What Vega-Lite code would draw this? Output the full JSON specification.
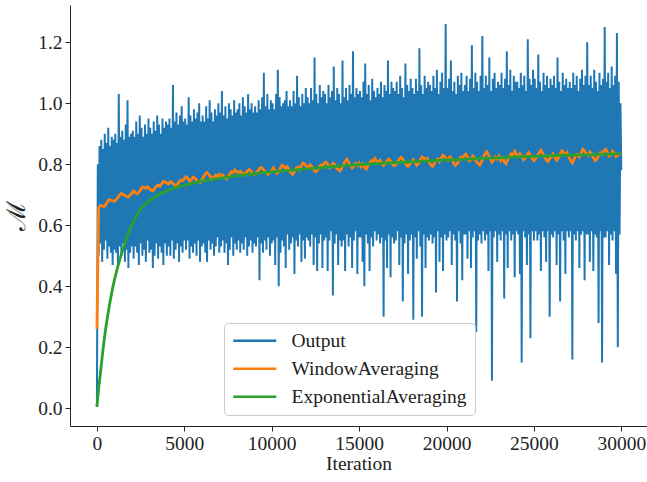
{
"$schema":"https://vega.github.io/schema/vega-lite/v6.json",
"width":577,"height":421,
"autosize":{"type":"none"},
"padding":{"left":70,"top":5,"right":0,"bottom":56},
"background":"white",
"config":{
"view":{"stroke":null},
"axis":{"labelFont":"Liberation Serif","labelFontSize":19.5,"labelColor":"#222","titleFont":"Liberation Serif","titleFontSize":19.5,"titleFontWeight":"normal","titleColor":"#222","domainColor":"#222","domainWidth":1,"tickColor":"#222","tickSize":5,"tickWidth":1,"grid":false,"labelPadding":3},
"legend":{"labelFont":"Liberation Serif","labelFontSize":19.5,"labelColor":"#222"}
},
"encoding":{
"x":{"field":"x","type":"quantitative","scale":{"domain":[-1540,31470],"nice":false,"zero":false},"axis":{"values":[0,5000,10000,15000,20000,25000,30000],"format":"d","title":"Iteration","titlePadding":2}},
"y":{"field":"v","type":"quantitative","scale":{"domain":[-0.058,1.322],"nice":false,"zero":false},"axis":{"values":[0,0.2,0.4,0.6,0.8,1.0,1.2],"format":".1f","title":"ℳ","titleFont":"DejaVu Serif","titleFontSize":26,"titlePadding":8}},
"color":{"field":"k","type":"nominal","scale":{"domain":["o","w","e"],"range":["#1f77b4","#ff7f0e","#2ca02c"]},"legend":{"orient":"none","legendX":154,"legendY":318,"title":null,"symbolType":"M-3,0H3","symbolSize":206,"symbolStrokeWidth":2.6,"symbolOffset":13,"labelOffset":27,"labelLimit":400,"padding":8,"rowPadding":7,"fillColor":"rgba(255,255,255,0.8)","strokeColor":"#cccccc","cornerRadius":4,"labelExpr":"datum.label=='o'?'Output':datum.label=='w'?'WindowAveraging':'ExponentialAveraging\u00a0\u00a0\u00a0\u00a0'"}}
},
"layer":[
{"data":{"values":[
{"x":0,"o":0.005},
{"x":50,"o":0.80},{"x":100,"o":0.50},{"x":150,"o":0.86},{"x":200,"o":0.54},{"x":250,"o":0.88},{"x":300,"o":0.48},{"x":350,"o":0.85},{"x":400,"o":0.52},{"x":450,"o":0.90},{"x":500,"o":0.55},{"x":550,"o":0.87},{"x":600,"o":0.49},{"x":650,"o":0.92},{"x":700,"o":0.53},{"x":750,"o":0.86},{"x":800,"o":0.51},{"x":850,"o":0.89},{"x":900,"o":0.47},{"x":950,"o":0.88},{"x":1000,"o":0.52},
{"x":1050,"o":0.90},{"x":1100,"o":0.51},{"x":1150,"o":0.87},{"x":1200,"o":0.47},{"x":1250,"o":1.03},{"x":1300,"o":0.53},{"x":1350,"o":0.89},{"x":1400,"o":0.50},{"x":1450,"o":0.91},{"x":1500,"o":0.54},{"x":1550,"o":0.88},{"x":1600,"o":0.48},{"x":1650,"o":0.93},{"x":1700,"o":0.52},{"x":1750,"o":1.01},{"x":1800,"o":0.46},{"x":1850,"o":0.89},{"x":1900,"o":0.51},{"x":1950,"o":0.90},{"x":2000,"o":0.53},
{"x":2050,"o":0.91},{"x":2100,"o":0.49},{"x":2150,"o":0.89},{"x":2200,"o":0.53},{"x":2250,"o":0.94},{"x":2300,"o":0.51},{"x":2350,"o":0.90},{"x":2400,"o":0.47},{"x":2450,"o":0.96},{"x":2500,"o":0.54},{"x":2550,"o":0.92},{"x":2600,"o":0.50},{"x":2650,"o":0.89},{"x":2700,"o":0.52},{"x":2750,"o":0.93},{"x":2800,"o":0.48},{"x":2850,"o":0.90},{"x":2900,"o":0.55},{"x":2950,"o":0.95},{"x":3000,"o":0.51},
{"x":3050,"o":0.92},{"x":3100,"o":0.52},{"x":3150,"o":0.90},{"x":3200,"o":0.46},{"x":3250,"o":0.94},{"x":3300,"o":0.50},{"x":3350,"o":0.91},{"x":3400,"o":0.54},{"x":3450,"o":0.96},{"x":3500,"o":0.49},{"x":3550,"o":0.93},{"x":3600,"o":0.53},{"x":3650,"o":0.90},{"x":3700,"o":0.51},{"x":3750,"o":0.95},{"x":3800,"o":0.47},{"x":3850,"o":0.92},{"x":3900,"o":0.54},{"x":3950,"o":0.94},{"x":4000,"o":0.50},
{"x":4050,"o":0.93},{"x":4100,"o":0.53},{"x":4150,"o":0.95},{"x":4200,"o":0.50},{"x":4250,"o":0.92},{"x":4300,"o":0.55},{"x":4350,"o":1.06},{"x":4400,"o":0.49},{"x":4450,"o":0.94},{"x":4500,"o":0.52},{"x":4550,"o":0.97},{"x":4600,"o":0.54},{"x":4650,"o":0.93},{"x":4700,"o":0.48},{"x":4750,"o":0.96},{"x":4800,"o":0.53},{"x":4850,"o":0.99},{"x":4900,"o":0.51},{"x":4950,"o":0.94},{"x":5000,"o":0.55},
{"x":5050,"o":0.95},{"x":5100,"o":0.52},{"x":5150,"o":0.93},{"x":5200,"o":0.55},{"x":5250,"o":1.02},{"x":5300,"o":0.49},{"x":5350,"o":0.96},{"x":5400,"o":0.53},{"x":5450,"o":0.94},{"x":5500,"o":0.51},{"x":5550,"o":0.98},{"x":5600,"o":0.54},{"x":5650,"o":0.95},{"x":5700,"o":0.50},{"x":5750,"o":0.97},{"x":5800,"o":0.55},{"x":5850,"o":1.00},{"x":5900,"o":0.48},{"x":5950,"o":0.94},{"x":6000,"o":0.53},
{"x":6050,"o":0.96},{"x":6100,"o":0.54},{"x":6150,"o":0.94},{"x":6200,"o":0.51},{"x":6250,"o":0.99},{"x":6300,"o":0.48},{"x":6350,"o":0.95},{"x":6400,"o":0.55},{"x":6450,"o":1.01},{"x":6500,"o":0.52},{"x":6550,"o":0.97},{"x":6600,"o":0.54},{"x":6650,"o":0.94},{"x":6700,"o":0.50},{"x":6750,"o":0.98},{"x":6800,"o":0.53},{"x":6850,"o":0.96},{"x":6900,"o":0.56},{"x":6950,"o":1.00},{"x":7000,"o":0.51},
{"x":7050,"o":0.97},{"x":7100,"o":0.53},{"x":7150,"o":1.04},{"x":7200,"o":0.55},{"x":7250,"o":0.96},{"x":7300,"o":0.51},{"x":7350,"o":0.99},{"x":7400,"o":0.54},{"x":7450,"o":0.95},{"x":7500,"o":0.47},{"x":7550,"o":1.00},{"x":7600,"o":0.52},{"x":7650,"o":0.98},{"x":7700,"o":0.56},{"x":7750,"o":0.96},{"x":7800,"o":0.50},{"x":7850,"o":1.01},{"x":7900,"o":0.54},{"x":7950,"o":0.97},{"x":8000,"o":0.52},
{"x":8050,"o":0.98},{"x":8100,"o":0.55},{"x":8150,"o":1.00},{"x":8200,"o":0.51},{"x":8250,"o":0.96},{"x":8300,"o":0.54},{"x":8350,"o":1.02},{"x":8400,"o":0.52},{"x":8450,"o":0.99},{"x":8500,"o":0.56},{"x":8550,"o":0.97},{"x":8600,"o":0.50},{"x":8650,"o":1.03},{"x":8700,"o":0.53},{"x":8750,"o":0.98},{"x":8800,"o":0.55},{"x":8850,"o":1.00},{"x":8900,"o":0.51},{"x":8950,"o":0.97},{"x":9000,"o":0.54},
{"x":9050,"o":0.99},{"x":9100,"o":0.53},{"x":9150,"o":0.97},{"x":9200,"o":0.56},{"x":9250,"o":1.01},{"x":9300,"o":0.42},{"x":9350,"o":0.98},{"x":9400,"o":0.54},{"x":9450,"o":1.02},{"x":9500,"o":0.51},{"x":9550,"o":1.10},{"x":9600,"o":0.55},{"x":9650,"o":0.99},{"x":9700,"o":0.52},{"x":9750,"o":1.03},{"x":9800,"o":0.56},{"x":9850,"o":0.98},{"x":9900,"o":0.50},{"x":9950,"o":1.01},{"x":10000,"o":0.54},
{"x":10050,"o":1.00},{"x":10100,"o":0.55},{"x":10150,"o":0.98},{"x":10200,"o":0.47},{"x":10250,"o":1.03},{"x":10300,"o":0.56},{"x":10350,"o":1.11},{"x":10400,"o":0.40},{"x":10450,"o":1.02},{"x":10500,"o":0.51},{"x":10550,"o":0.99},{"x":10600,"o":0.55},{"x":10650,"o":1.00},{"x":10700,"o":0.53},{"x":10750,"o":1.01},{"x":10800,"o":0.46},{"x":10850,"o":1.04},{"x":10900,"o":0.57},{"x":10950,"o":0.99},{"x":11000,"o":0.52},
{"x":11050,"o":1.01},{"x":11100,"o":0.54},{"x":11150,"o":0.99},{"x":11200,"o":0.56},{"x":11250,"o":1.04},{"x":11300,"o":0.44},{"x":11350,"o":1.00},{"x":11400,"o":0.55},{"x":11450,"o":1.09},{"x":11500,"o":0.53},{"x":11550,"o":1.02},{"x":11600,"o":0.57},{"x":11650,"o":0.99},{"x":11700,"o":0.48},{"x":11750,"o":1.03},{"x":11800,"o":0.55},{"x":11850,"o":1.00},{"x":11900,"o":0.49},{"x":11950,"o":1.05},{"x":12000,"o":0.56},
{"x":12050,"o":1.02},{"x":12100,"o":0.55},{"x":12150,"o":1.00},{"x":12200,"o":0.53},{"x":12250,"o":1.05},{"x":12300,"o":0.57},{"x":12350,"o":1.01},{"x":12400,"o":0.47},{"x":12450,"o":1.15},{"x":12500,"o":0.56},{"x":12550,"o":1.03},{"x":12600,"o":0.45},{"x":12650,"o":1.00},{"x":12700,"o":0.54},{"x":12750,"o":1.06},{"x":12800,"o":0.57},{"x":12850,"o":1.02},{"x":12900,"o":0.46},{"x":12950,"o":1.04},{"x":13000,"o":0.55},
{"x":13050,"o":1.03},{"x":13100,"o":0.56},{"x":13150,"o":1.00},{"x":13200,"o":0.45},{"x":13250,"o":1.06},{"x":13300,"o":0.55},{"x":13350,"o":1.02},{"x":13400,"o":0.58},{"x":13450,"o":1.04},{"x":13500,"o":0.37},{"x":13550,"o":1.12},{"x":13600,"o":0.54},{"x":13650,"o":1.01},{"x":13700,"o":0.57},{"x":13750,"o":1.05},{"x":13800,"o":0.47},{"x":13850,"o":1.03},{"x":13900,"o":0.55},{"x":13950,"o":1.00},{"x":14000,"o":0.53},
{"x":14050,"o":1.14},{"x":14100,"o":0.55},{"x":14150,"o":1.02},{"x":14200,"o":0.45},{"x":14250,"o":1.05},{"x":14300,"o":0.57},{"x":14350,"o":1.01},{"x":14400,"o":0.53},{"x":14450,"o":1.06},{"x":14500,"o":0.56},{"x":14550,"o":1.03},{"x":14600,"o":0.46},{"x":14650,"o":1.17},{"x":14700,"o":0.55},{"x":14750,"o":1.02},{"x":14800,"o":0.58},{"x":14850,"o":1.05},{"x":14900,"o":0.44},{"x":14950,"o":1.03},{"x":15000,"o":0.56},
{"x":15050,"o":1.04},{"x":15100,"o":0.56},{"x":15150,"o":1.02},{"x":15200,"o":0.48},{"x":15250,"o":1.07},{"x":15300,"o":0.40},{"x":15350,"o":1.13},{"x":15400,"o":0.57},{"x":15450,"o":1.03},{"x":15500,"o":0.54},{"x":15550,"o":1.06},{"x":15600,"o":0.45},{"x":15650,"o":1.01},{"x":15700,"o":0.56},{"x":15750,"o":1.08},{"x":15800,"o":0.53},{"x":15850,"o":1.04},{"x":15900,"o":0.58},{"x":15950,"o":1.02},{"x":16000,"o":0.55},
{"x":16050,"o":1.05},{"x":16100,"o":0.57},{"x":16150,"o":1.03},{"x":16200,"o":0.54},{"x":16250,"o":1.07},{"x":16300,"o":0.56},{"x":16350,"o":1.02},{"x":16400,"o":0.30},{"x":16450,"o":1.06},{"x":16500,"o":0.55},{"x":16550,"o":1.04},{"x":16600,"o":0.46},{"x":16650,"o":1.14},{"x":16700,"o":0.57},{"x":16750,"o":1.03},{"x":16800,"o":0.43},{"x":16850,"o":1.07},{"x":16900,"o":0.56},{"x":16950,"o":1.05},{"x":17000,"o":0.54},
{"x":17050,"o":1.04},{"x":17100,"o":0.55},{"x":17150,"o":1.07},{"x":17200,"o":0.58},{"x":17250,"o":1.03},{"x":17300,"o":0.47},{"x":17350,"o":1.09},{"x":17400,"o":0.56},{"x":17450,"o":1.05},{"x":17500,"o":0.35},{"x":17550,"o":1.02},{"x":17600,"o":0.54},{"x":17650,"o":1.13},{"x":17700,"o":0.57},{"x":17750,"o":1.06},{"x":17800,"o":0.44},{"x":17850,"o":1.04},{"x":17900,"o":0.55},{"x":17950,"o":1.08},{"x":18000,"o":0.57},
{"x":18050,"o":1.05},{"x":18100,"o":0.29},{"x":18150,"o":1.03},{"x":18200,"o":0.56},{"x":18250,"o":1.08},{"x":18300,"o":0.49},{"x":18350,"o":1.04},{"x":18400,"o":0.58},{"x":18450,"o":1.18},{"x":18500,"o":0.53},{"x":18550,"o":1.06},{"x":18600,"o":0.30},{"x":18650,"o":1.03},{"x":18700,"o":0.57},{"x":18750,"o":1.09},{"x":18800,"o":0.46},{"x":18850,"o":1.05},{"x":18900,"o":0.56},{"x":18950,"o":1.07},{"x":19000,"o":0.55},
{"x":19050,"o":1.06},{"x":19100,"o":0.57},{"x":19150,"o":1.04},{"x":19200,"o":0.54},{"x":19250,"o":1.09},{"x":19300,"o":0.56},{"x":19350,"o":1.05},{"x":19400,"o":0.38},{"x":19450,"o":1.11},{"x":19500,"o":0.58},{"x":19550,"o":1.03},{"x":19600,"o":0.48},{"x":19650,"o":1.07},{"x":19700,"o":0.56},{"x":19750,"o":1.10},{"x":19800,"o":0.45},{"x":19850,"o":1.05},{"x":19900,"o":0.57},{"x":19950,"o":1.26},{"x":20000,"o":0.55},
{"x":20050,"o":1.05},{"x":20100,"o":0.56},{"x":20150,"o":1.08},{"x":20200,"o":0.58},{"x":20250,"o":1.14},{"x":20300,"o":0.47},{"x":20350,"o":1.04},{"x":20400,"o":0.57},{"x":20450,"o":1.07},{"x":20500,"o":0.55},{"x":20550,"o":1.03},{"x":20600,"o":0.35},{"x":20650,"o":1.09},{"x":20700,"o":0.58},{"x":20750,"o":1.06},{"x":20800,"o":0.54},{"x":20850,"o":1.10},{"x":20900,"o":0.42},{"x":20950,"o":1.04},{"x":21000,"o":0.57},
{"x":21050,"o":1.06},{"x":21100,"o":0.57},{"x":21150,"o":1.09},{"x":21200,"o":0.49},{"x":21250,"o":1.04},{"x":21300,"o":0.58},{"x":21350,"o":1.08},{"x":21400,"o":0.46},{"x":21450,"o":1.19},{"x":21500,"o":0.56},{"x":21550,"o":1.05},{"x":21600,"o":0.58},{"x":21650,"o":1.10},{"x":21700,"o":0.25},{"x":21750,"o":1.07},{"x":21800,"o":0.55},{"x":21850,"o":1.04},{"x":21900,"o":0.57},{"x":21950,"o":1.09},{"x":22000,"o":0.54},
{"x":22050,"o":1.22},{"x":22100,"o":0.58},{"x":22150,"o":1.05},{"x":22200,"o":0.55},{"x":22250,"o":1.09},{"x":22300,"o":0.57},{"x":22350,"o":1.06},{"x":22400,"o":0.45},{"x":22450,"o":1.15},{"x":22500,"o":0.58},{"x":22550,"o":1.04},{"x":22600,"o":0.09},{"x":22650,"o":1.08},{"x":22700,"o":0.56},{"x":22750,"o":1.10},{"x":22800,"o":0.58},{"x":22850,"o":1.05},{"x":22900,"o":0.48},{"x":22950,"o":1.07},{"x":23000,"o":0.57},
{"x":23050,"o":1.06},{"x":23100,"o":0.55},{"x":23150,"o":1.10},{"x":23200,"o":0.58},{"x":23250,"o":1.05},{"x":23300,"o":0.36},{"x":23350,"o":1.08},{"x":23400,"o":0.57},{"x":23450,"o":1.17},{"x":23500,"o":0.46},{"x":23550,"o":1.06},{"x":23600,"o":0.58},{"x":23650,"o":1.11},{"x":23700,"o":0.55},{"x":23750,"o":1.04},{"x":23800,"o":0.57},{"x":23850,"o":1.09},{"x":23900,"o":0.43},{"x":23950,"o":1.07},{"x":24000,"o":0.58},
{"x":24050,"o":1.07},{"x":24100,"o":0.57},{"x":24150,"o":1.05},{"x":24200,"o":0.44},{"x":24250,"o":1.10},{"x":24300,"o":0.15},{"x":24350,"o":1.06},{"x":24400,"o":0.58},{"x":24450,"o":1.09},{"x":24500,"o":0.56},{"x":24550,"o":1.04},{"x":24600,"o":0.47},{"x":24650,"o":1.21},{"x":24700,"o":0.57},{"x":24750,"o":1.08},{"x":24800,"o":0.23},{"x":24850,"o":1.06},{"x":24900,"o":0.58},{"x":24950,"o":1.11},{"x":25000,"o":0.55},
{"x":25050,"o":1.08},{"x":25100,"o":0.58},{"x":25150,"o":1.05},{"x":25200,"o":0.55},{"x":25250,"o":1.16},{"x":25300,"o":0.57},{"x":25350,"o":1.07},{"x":25400,"o":0.45},{"x":25450,"o":1.04},{"x":25500,"o":0.58},{"x":25550,"o":1.10},{"x":25600,"o":0.56},{"x":25650,"o":1.06},{"x":25700,"o":0.48},{"x":25750,"o":1.09},{"x":25800,"o":0.58},{"x":25850,"o":1.05},{"x":25900,"o":0.30},{"x":25950,"o":1.08},{"x":26000,"o":0.57},
{"x":26050,"o":1.06},{"x":26100,"o":0.56},{"x":26150,"o":1.09},{"x":26200,"o":0.58},{"x":26250,"o":1.05},{"x":26300,"o":0.47},{"x":26350,"o":1.15},{"x":26400,"o":0.57},{"x":26450,"o":1.07},{"x":26500,"o":0.35},{"x":26550,"o":1.04},{"x":26600,"o":0.58},{"x":26650,"o":1.10},{"x":26700,"o":0.55},{"x":26750,"o":1.06},{"x":26800,"o":0.44},{"x":26850,"o":1.08},{"x":26900,"o":0.58},{"x":26950,"o":1.05},{"x":27000,"o":0.56},
{"x":27050,"o":1.07},{"x":27100,"o":0.58},{"x":27150,"o":1.05},{"x":27200,"o":0.16},{"x":27250,"o":1.10},{"x":27300,"o":0.57},{"x":27350,"o":1.06},{"x":27400,"o":0.55},{"x":27450,"o":1.09},{"x":27500,"o":0.58},{"x":27550,"o":1.04},{"x":27600,"o":0.46},{"x":27650,"o":1.08},{"x":27700,"o":0.57},{"x":27750,"o":1.11},{"x":27800,"o":0.58},{"x":27850,"o":1.06},{"x":27900,"o":0.42},{"x":27950,"o":1.09},{"x":28000,"o":0.57},
{"x":28050,"o":1.20},{"x":28100,"o":0.57},{"x":28150,"o":1.06},{"x":28200,"o":0.48},{"x":28250,"o":1.09},{"x":28300,"o":0.58},{"x":28350,"o":1.05},{"x":28400,"o":0.45},{"x":28450,"o":1.11},{"x":28500,"o":0.57},{"x":28550,"o":1.07},{"x":28600,"o":0.56},{"x":28650,"o":1.04},{"x":28700,"o":0.28},{"x":28750,"o":1.10},{"x":28800,"o":0.58},{"x":28850,"o":1.06},{"x":28900,"o":0.15},{"x":28950,"o":1.08},{"x":29000,"o":0.56},
{"x":29050,"o":1.25},{"x":29100,"o":0.56},{"x":29150,"o":1.07},{"x":29200,"o":0.58},{"x":29250,"o":1.10},{"x":29300,"o":0.47},{"x":29350,"o":1.05},{"x":29400,"o":0.57},{"x":29450,"o":1.12},{"x":29500,"o":0.55},{"x":29550,"o":1.06},{"x":29600,"o":0.58},{"x":29650,"o":1.09},{"x":29700,"o":0.44},{"x":29750,"o":1.23},{"x":29800,"o":0.20},{"x":29850,"o":1.07},{"x":29900,"o":0.57},{"x":29950,"o":1.00},{"x":30000,"o":0.78}
]},"transform":[{"fold":["o"],"as":["k","v"]}],"mark":{"type":"line","strokeWidth":2}},
{"data":{"values":[
{"x":0,"w":0.26},
{"x":100,"w":0.658},{"x":200,"w":0.665},{"x":300,"w":0.664},{"x":400,"w":0.661},{"x":500,"w":0.667},{"x":600,"w":0.677},{"x":700,"w":0.684},{"x":800,"w":0.682},{"x":900,"w":0.680},{"x":1000,"w":0.679},
{"x":1100,"w":0.684},{"x":1200,"w":0.691},{"x":1300,"w":0.699},{"x":1400,"w":0.705},{"x":1500,"w":0.701},{"x":1600,"w":0.698},{"x":1700,"w":0.694},{"x":1800,"w":0.692},{"x":1900,"w":0.699},{"x":2000,"w":0.705},
{"x":2100,"w":0.712},{"x":2200,"w":0.707},{"x":2300,"w":0.703},{"x":2400,"w":0.709},{"x":2500,"w":0.717},{"x":2600,"w":0.725},{"x":2700,"w":0.724},{"x":2800,"w":0.721},{"x":2900,"w":0.726},{"x":3000,"w":0.720},
{"x":3100,"w":0.715},{"x":3200,"w":0.713},{"x":3300,"w":0.720},{"x":3400,"w":0.728},{"x":3500,"w":0.732},{"x":3600,"w":0.728},{"x":3700,"w":0.736},{"x":3800,"w":0.744},{"x":3900,"w":0.742},{"x":4000,"w":0.738},
{"x":4100,"w":0.736},{"x":4200,"w":0.743},{"x":4300,"w":0.740},{"x":4400,"w":0.734},{"x":4500,"w":0.730},{"x":4600,"w":0.734},{"x":4700,"w":0.742},{"x":4800,"w":0.748},{"x":4900,"w":0.746},{"x":5000,"w":0.753},
{"x":5100,"w":0.759},{"x":5200,"w":0.754},{"x":5300,"w":0.745},{"x":5400,"w":0.749},{"x":5500,"w":0.758},{"x":5600,"w":0.755},{"x":5700,"w":0.747},{"x":5800,"w":0.743},{"x":5900,"w":0.741},{"x":6000,"w":0.749},
{"x":6100,"w":0.758},{"x":6200,"w":0.768},{"x":6300,"w":0.773},{"x":6400,"w":0.766},{"x":6500,"w":0.759},{"x":6600,"w":0.752},{"x":6700,"w":0.758},{"x":6800,"w":0.765},{"x":6900,"w":0.760},{"x":7000,"w":0.767},
{"x":7100,"w":0.758},{"x":7200,"w":0.764},{"x":7300,"w":0.757},{"x":7400,"w":0.752},{"x":7500,"w":0.761},{"x":7600,"w":0.767},{"x":7700,"w":0.776},{"x":7800,"w":0.773},{"x":7900,"w":0.781},{"x":8000,"w":0.775},
{"x":8100,"w":0.773},{"x":8200,"w":0.777},{"x":8300,"w":0.772},{"x":8400,"w":0.765},{"x":8500,"w":0.770},{"x":8600,"w":0.777},{"x":8700,"w":0.783},{"x":8800,"w":0.778},{"x":8900,"w":0.771},{"x":9000,"w":0.767},
{"x":9100,"w":0.771},{"x":9200,"w":0.777},{"x":9300,"w":0.786},{"x":9400,"w":0.790},{"x":9500,"w":0.784},{"x":9600,"w":0.778},{"x":9700,"w":0.771},{"x":9800,"w":0.767},{"x":9900,"w":0.773},{"x":10000,"w":0.779},
{"x":10100,"w":0.788},{"x":10200,"w":0.778},{"x":10300,"w":0.770},{"x":10400,"w":0.776},{"x":10500,"w":0.788},{"x":10600,"w":0.797},{"x":10700,"w":0.793},{"x":10800,"w":0.786},{"x":10900,"w":0.792},{"x":11000,"w":0.781},
{"x":11100,"w":0.772},{"x":11200,"w":0.767},{"x":11300,"w":0.776},{"x":11400,"w":0.788},{"x":11500,"w":0.791},{"x":11600,"w":0.783},{"x":11700,"w":0.795},{"x":11800,"w":0.804},{"x":11900,"w":0.800},{"x":12000,"w":0.793},
{"x":12100,"w":0.788},{"x":12200,"w":0.798},{"x":12300,"w":0.792},{"x":12400,"w":0.782},{"x":12500,"w":0.775},{"x":12600,"w":0.779},{"x":12700,"w":0.789},{"x":12800,"w":0.797},{"x":12900,"w":0.794},{"x":13000,"w":0.803},
{"x":13100,"w":0.807},{"x":13200,"w":0.801},{"x":13300,"w":0.788},{"x":13400,"w":0.791},{"x":13500,"w":0.803},{"x":13600,"w":0.799},{"x":13700,"w":0.788},{"x":13800,"w":0.783},{"x":13900,"w":0.778},{"x":14000,"w":0.787},
{"x":14100,"w":0.798},{"x":14200,"w":0.810},{"x":14300,"w":0.816},{"x":14400,"w":0.807},{"x":14500,"w":0.797},{"x":14600,"w":0.788},{"x":14700,"w":0.794},{"x":14800,"w":0.803},{"x":14900,"w":0.796},{"x":15000,"w":0.804},
{"x":15100,"w":0.792},{"x":15200,"w":0.801},{"x":15300,"w":0.790},{"x":15400,"w":0.784},{"x":15500,"w":0.795},{"x":15600,"w":0.803},{"x":15700,"w":0.812},{"x":15800,"w":0.809},{"x":15900,"w":0.819},{"x":16000,"w":0.810},
{"x":16100,"w":0.806},{"x":16200,"w":0.813},{"x":16300,"w":0.805},{"x":16400,"w":0.796},{"x":16500,"w":0.801},{"x":16600,"w":0.811},{"x":16700,"w":0.817},{"x":16800,"w":0.810},{"x":16900,"w":0.801},{"x":17000,"w":0.795},
{"x":17100,"w":0.799},{"x":17200,"w":0.808},{"x":17300,"w":0.817},{"x":17400,"w":0.823},{"x":17500,"w":0.815},{"x":17600,"w":0.808},{"x":17700,"w":0.798},{"x":17800,"w":0.793},{"x":17900,"w":0.801},{"x":18000,"w":0.807},
{"x":18100,"w":0.815},{"x":18200,"w":0.806},{"x":18300,"w":0.797},{"x":18400,"w":0.803},{"x":18500,"w":0.815},{"x":18600,"w":0.824},{"x":18700,"w":0.820},{"x":18800,"w":0.813},{"x":18900,"w":0.819},{"x":19000,"w":0.807},
{"x":19100,"w":0.798},{"x":19200,"w":0.793},{"x":19300,"w":0.802},{"x":19400,"w":0.813},{"x":19500,"w":0.817},{"x":19600,"w":0.809},{"x":19700,"w":0.820},{"x":19800,"w":0.830},{"x":19900,"w":0.825},{"x":20000,"w":0.818},
{"x":20100,"w":0.813},{"x":20200,"w":0.824},{"x":20300,"w":0.818},{"x":20400,"w":0.805},{"x":20500,"w":0.796},{"x":20600,"w":0.801},{"x":20700,"w":0.812},{"x":20800,"w":0.822},{"x":20900,"w":0.817},{"x":21000,"w":0.828},
{"x":21100,"w":0.833},{"x":21200,"w":0.824},{"x":21300,"w":0.811},{"x":21400,"w":0.814},{"x":21500,"w":0.827},{"x":21600,"w":0.821},{"x":21700,"w":0.809},{"x":21800,"w":0.803},{"x":21900,"w":0.797},{"x":22000,"w":0.808},
{"x":22100,"w":0.821},{"x":22200,"w":0.833},{"x":22300,"w":0.841},{"x":22400,"w":0.831},{"x":22500,"w":0.818},{"x":22600,"w":0.807},{"x":22700,"w":0.814},{"x":22800,"w":0.824},{"x":22900,"w":0.817},{"x":23000,"w":0.826},
{"x":23100,"w":0.812},{"x":23200,"w":0.821},{"x":23300,"w":0.809},{"x":23400,"w":0.802},{"x":23500,"w":0.815},{"x":23600,"w":0.824},{"x":23700,"w":0.834},{"x":23800,"w":0.830},{"x":23900,"w":0.843},{"x":24000,"w":0.832},
{"x":24100,"w":0.826},{"x":24200,"w":0.834},{"x":24300,"w":0.826},{"x":24400,"w":0.815},{"x":24500,"w":0.820},{"x":24600,"w":0.831},{"x":24700,"w":0.838},{"x":24800,"w":0.830},{"x":24900,"w":0.819},{"x":25000,"w":0.812},
{"x":25100,"w":0.818},{"x":25200,"w":0.827},{"x":25300,"w":0.838},{"x":25400,"w":0.846},{"x":25500,"w":0.835},{"x":25600,"w":0.826},{"x":25700,"w":0.815},{"x":25800,"w":0.809},{"x":25900,"w":0.818},{"x":26000,"w":0.825},
{"x":26100,"w":0.834},{"x":26200,"w":0.823},{"x":26300,"w":0.813},{"x":26400,"w":0.821},{"x":26500,"w":0.833},{"x":26600,"w":0.844},{"x":26700,"w":0.839},{"x":26800,"w":0.831},{"x":26900,"w":0.838},{"x":27000,"w":0.823},
{"x":27100,"w":0.813},{"x":27200,"w":0.805},{"x":27300,"w":0.817},{"x":27400,"w":0.830},{"x":27500,"w":0.833},{"x":27600,"w":0.824},{"x":27700,"w":0.837},{"x":27800,"w":0.849},{"x":27900,"w":0.843},{"x":28000,"w":0.834},
{"x":28100,"w":0.829},{"x":28200,"w":0.840},{"x":28300,"w":0.834},{"x":28400,"w":0.821},{"x":28500,"w":0.812},{"x":28600,"w":0.817},{"x":28700,"w":0.828},{"x":28800,"w":0.838},{"x":28900,"w":0.833},{"x":29000,"w":0.844},
{"x":29100,"w":0.849},{"x":29200,"w":0.840},{"x":29300,"w":0.827},{"x":29400,"w":0.830},{"x":29500,"w":0.843},{"x":29600,"w":0.837},{"x":29700,"w":0.825},{"x":29800,"w":0.829},{"x":29900,"w":0.833},{"x":30000,"w":0.836}
]},"transform":[{"fold":["w"],"as":["k","v"]}],"mark":{"type":"line","strokeWidth":2.8}},
{"data":{"values":[
{"x":0,"e":0.005},{"x":100,"e":0.065},{"x":200,"e":0.115},{"x":343,"e":0.19},{"x":500,"e":0.26},{"x":650,"e":0.315},{"x":850,"e":0.38},{"x":1000,"e":0.42},{"x":1200,"e":0.465},{"x":1400,"e":0.505},{"x":1600,"e":0.54},{"x":1800,"e":0.575},{"x":2000,"e":0.60},{"x":2300,"e":0.635},{"x":2600,"e":0.66},{"x":3000,"e":0.68},{"x":3500,"e":0.70},{"x":4000,"e":0.713},{"x":4500,"e":0.723},{"x":5000,"e":0.731},{"x":5800,"e":0.742},{"x":6500,"e":0.749},{"x":7000,"e":0.754},{"x":8000,"e":0.762},{"x":9000,"e":0.769},{"x":10000,"e":0.775},{"x":11000,"e":0.78},{"x":12000,"e":0.785},{"x":13000,"e":0.79},{"x":14000,"e":0.795},{"x":15000,"e":0.799},{"x":16000,"e":0.802},{"x":17000,"e":0.805},{"x":18000,"e":0.808},{"x":19000,"e":0.811},{"x":20000,"e":0.814},{"x":21000,"e":0.816},{"x":22000,"e":0.819},{"x":23000,"e":0.821},{"x":24000,"e":0.824},{"x":25000,"e":0.826},{"x":26000,"e":0.828},{"x":27000,"e":0.83},{"x":28000,"e":0.831},{"x":29000,"e":0.833},{"x":30000,"e":0.834}
]},"transform":[{"fold":["e"],"as":["k","v"]}],"mark":{"type":"line","strokeWidth":2.8,"interpolate":"monotone"}}
]
}
